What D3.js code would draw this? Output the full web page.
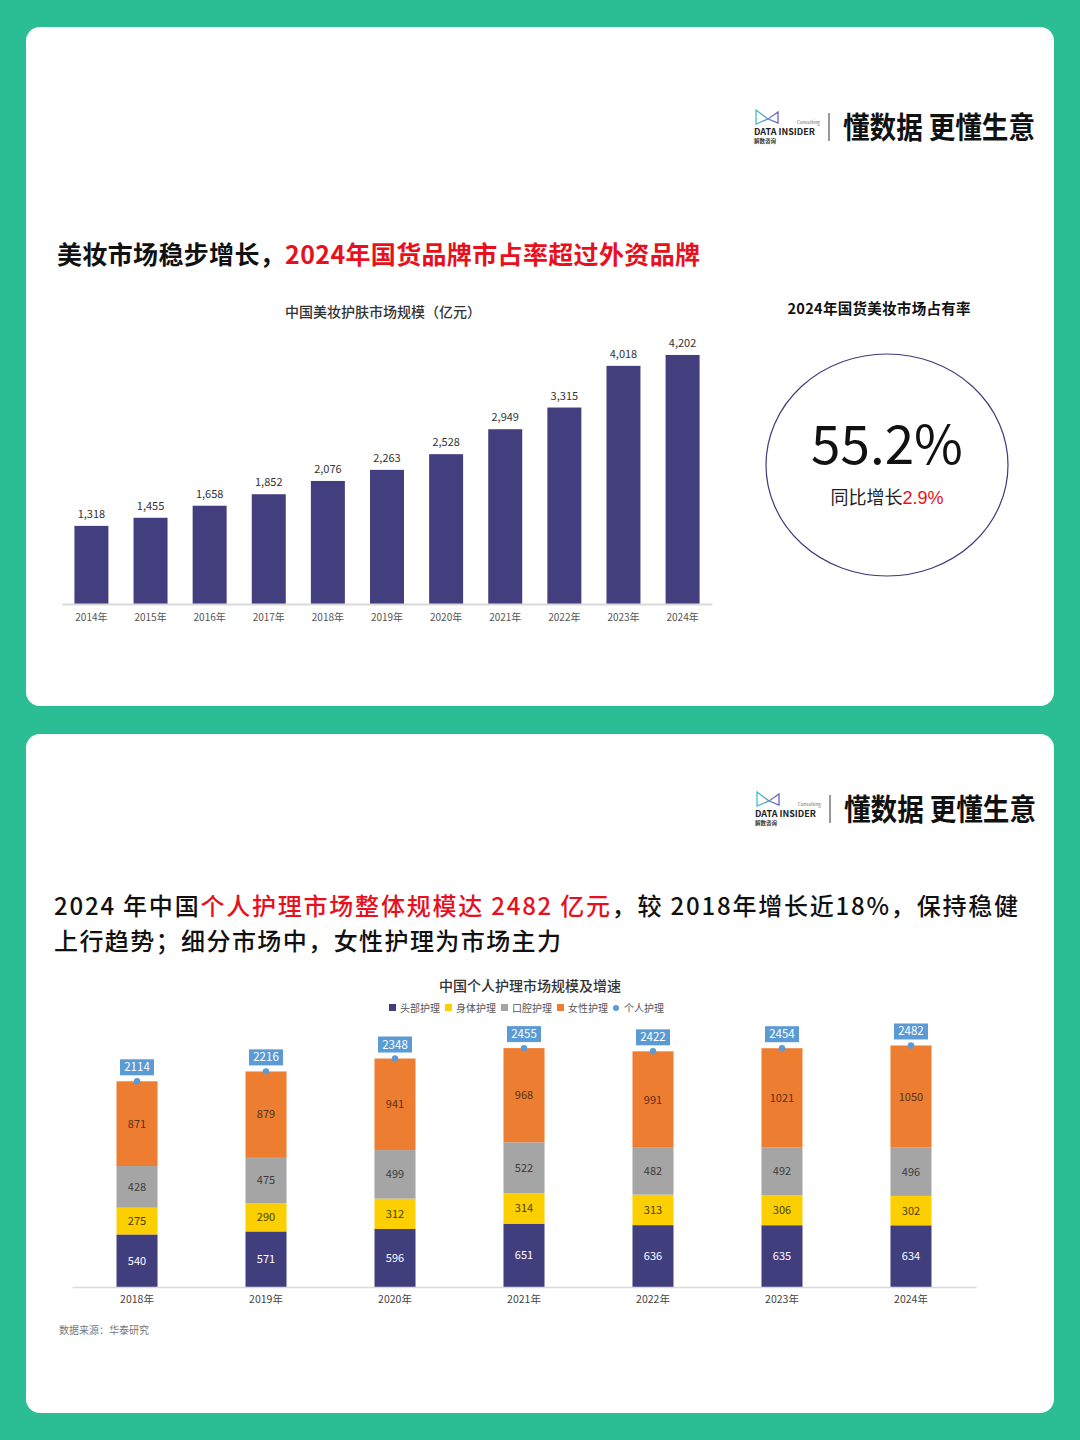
<!DOCTYPE html>
<html><head><meta charset="utf-8">
<script src="https://cdn.jsdelivr.net/npm/d3@7"></script>
<style>
html,body{margin:0;padding:0;background:#2bbd93;}
svg{display:block;}
text{font-family:"Noto Sans CJK SC","Noto Sans",sans-serif;}
</style></head>
<body>
<svg id="c" width="1080" height="1440"></svg>
<script>
// ---------- data ----------
const years1 = ["2014年","2015年","2016年","2017年","2018年","2019年","2020年","2021年","2022年","2023年","2024年"];
const market1 = [1318,1455,1658,1852,2076,2263,2528,2949,3315,4018,4202];

const years2 = ["2018年","2019年","2020年","2021年","2022年","2023年","2024年"];
const seriesNames = ["头部护理","身体护理","口腔护理","女性护理"];
const headCare   = [540,571,596,651,636,635,634];
const bodyCare   = [275,290,312,314,313,306,302];
const oralCare   = [428,475,499,522,482,492,496];
const femaleCare = [871,879,941,968,991,1021,1050];
const totalCare  = [2114,2216,2348,2455,2422,2454,2482];
const totalName = "个人护理";

const shareValue = "55.2%";
const shareGrowth = "2.9%";

// ---------- setup ----------
const svg = d3.select("#c");
const W = 1080;
svg.append("rect").attr("width",W).attr("height",1440).attr("fill","#2bbd93");
svg.append("rect").attr("x",26).attr("y",27).attr("width",1028).attr("height",679).attr("rx",14).attr("fill","#fff");
svg.append("rect").attr("x",26).attr("y",734).attr("width",1028).attr("height",679).attr("rx",14).attr("fill","#fff");

// ---------- logo ----------
function logo(x, y){
  const g = svg.append("g").attr("transform",`translate(${x},${y})`);
  const grad = svg.append("defs").append("linearGradient").attr("id","lg"+y).attr("x1","0").attr("x2","1");
  grad.append("stop").attr("offset","0").attr("stop-color","#3fc1c9");
  grad.append("stop").attr("offset","1").attr("stop-color","#6b5bc4");
  g.append("path").attr("d","M2,-17 L14,-8 L24,-15 L24,-4 L14,-8 L2,-3 Z")
    .attr("fill","none").attr("stroke","url(#lg"+y+")").attr("stroke-width",1.3);
  g.append("text").attr("x",0).attr("y",8).attr("font-size",9).attr("font-weight",700)
    .attr("fill","#222").attr("font-family","Liberation Sans, sans-serif").attr("textLength",61).text("DATA INSIDER");
  g.append("text").attr("x",43).attr("y",-3).attr("font-size",4.5).attr("fill","#666")
    .attr("font-family","Liberation Sans, sans-serif").text("Consulting");
  g.append("text").attr("x",0).attr("y",16).attr("font-size",5.5).attr("font-weight",700).attr("fill","#333").text("解数咨询");
  g.append("line").attr("x1",75).attr("x2",75).attr("y1",-14).attr("y2",14).attr("stroke","#555").attr("stroke-width",1.2);
  g.append("text").attr("x",89).attr("y",11).attr("font-size",30).attr("font-weight",700).attr("fill","#111")
    .attr("textLength",192).attr("lengthAdjust","spacingAndGlyphs").text("懂数据 更懂生意");
}
logo(754,127);
logo(755,809);

// ---------- card 1 title ----------
const t1 = svg.append("text").attr("x",57).attr("y",264).attr("font-size",25).attr("font-weight",700)
  .attr("textLength",643).attr("lengthAdjust","spacing");
t1.append("tspan").attr("fill","#111").text("美妆市场稳步增长，");
t1.append("tspan").attr("fill","#e8101c").text("2024年国货品牌市占率超过外资品牌");

svg.append("text").attr("x",383).attr("y",317).attr("text-anchor","middle").attr("font-size",14)
  .attr("font-weight",500).attr("fill","#333").text("中国美妆护肤市场规模（亿元）");

// ---------- chart 1 ----------
const x1 = d3.scaleBand().domain(years1).range([62,712]).paddingInner(0.425).paddingOuter(0.21);
const y1 = d3.scaleLinear().domain([0,4500]).range([604,337.3]);
const g1 = svg.append("g");
g1.selectAll("rect.b").data(market1).join("rect").attr("class","b")
  .attr("x",(d,i)=>x1(years1[i])).attr("width",x1.bandwidth())
  .attr("y",d=>y1(d)).attr("height",d=>y1(0)-y1(d)).attr("fill","#433f7f");
g1.selectAll("text.v").data(market1).join("text").attr("class","v")
  .attr("x",(d,i)=>x1(years1[i])+x1.bandwidth()/2).attr("y",d=>y1(d)-8)
  .attr("text-anchor","middle").attr("font-size",11).attr("fill","#333").text(d3.format(","));
const ax1 = svg.append("g").attr("transform","translate(0,604)")
  .call(d3.axisBottom(x1).tickSize(0).tickPadding(10));
ax1.select(".domain").attr("stroke","#d9d9d9").attr("stroke-width",2);
ax1.selectAll("text").attr("font-size",10).attr("fill","#555").attr("font-family","Noto Sans CJK SC");

// ---------- share circle ----------
svg.append("text").attr("x",879).attr("y",314).attr("text-anchor","middle").attr("font-size",14.5)
  .attr("font-weight",600).attr("fill","#111").attr("textLength",183).text("2024年国货美妆市场占有率");
svg.append("ellipse").attr("cx",887).attr("cy",465).attr("rx",121).attr("ry",111)
  .attr("fill","none").attr("stroke","#3d3a7a").attr("stroke-width",1.2);
svg.append("text").attr("x",887).attr("y",464).attr("text-anchor","middle").attr("font-size",53)
  .attr("font-family","Liberation Sans, Arial, sans-serif").attr("fill","#111").text(shareValue);
const gr = svg.append("text").attr("x",887).attr("y",504).attr("text-anchor","middle").attr("font-size",18);
gr.append("tspan").attr("fill","#222").text("同比增长");
gr.append("tspan").attr("fill","#e8101c").attr("font-family","Liberation Sans, Arial, sans-serif").text(shareGrowth);

// ---------- card 2 title ----------
const t2 = svg.append("text").attr("x",54).attr("y",915).attr("font-size",24).attr("font-weight",500)
  .attr("textLength",964).attr("lengthAdjust","spacing");
t2.append("tspan").attr("fill","#111").text("2024 年中国");
t2.append("tspan").attr("fill","#e8101c").text("个人护理市场整体规模达 2482 亿元");
t2.append("tspan").attr("fill","#111").text("，较 2018年增长近18%，保持稳健");
svg.append("text").attr("x",54).attr("y",950).attr("font-size",24).attr("font-weight",500).attr("fill","#111")
  .attr("textLength",507).attr("lengthAdjust","spacing")
  .text("上行趋势；细分市场中，女性护理为市场主力");

svg.append("text").attr("x",530).attr("y",991).attr("text-anchor","middle").attr("font-size",14)
  .attr("font-weight",500).attr("fill","#333").text("中国个人护理市场规模及增速");

// ---------- legend ----------
const colors = ["#413e7e","#fcd000","#a5a5a5","#ed7d31"];
const blue = "#5b9bd5";
const leg = svg.append("g").attr("transform","translate(389,1008)");
let lx = 0;
seriesNames.forEach((n,i)=>{
  leg.append("rect").attr("x",lx).attr("y",-4).attr("width",7).attr("height",7).attr("fill",colors[i]);
  leg.append("text").attr("x",lx+11).attr("y",3.5).attr("font-size",10).attr("fill","#555").text(n);
  lx += 56;
});
leg.append("circle").attr("cx",lx+3).attr("cy",0).attr("r",3).attr("fill",blue);
leg.append("text").attr("x",lx+11).attr("y",3.5).attr("font-size",10).attr("fill","#555").text(totalName);

// ---------- chart 2 ----------
const x2 = d3.scaleBand().domain(years2).range([72,976]).paddingInner(0.682).paddingOuter(0.345);
const y2 = d3.scaleLinear().domain([0,2600]).range([1287,1034]);
const rows = years2.map((yr,i)=>({year:yr,"头部护理":headCare[i],"身体护理":bodyCare[i],"口腔护理":oralCare[i],"女性护理":femaleCare[i]}));
const stack = d3.stack().keys(seriesNames)(rows);
const labelColors = ["#ffffff","#4a3b00","#3c3c3c","#5a3219"];
const g2 = svg.append("g");
stack.forEach((s,si)=>{
  g2.selectAll("rect.s"+si).data(s).join("rect").attr("class","s"+si)
    .attr("x",d=>x2(d.data.year)).attr("width",x2.bandwidth())
    .attr("y",d=>y2(d[1])).attr("height",d=>y2(d[0])-y2(d[1])).attr("fill",colors[si]);
  g2.selectAll("text.l"+si).data(s).join("text").attr("class","l"+si)
    .attr("x",d=>x2(d.data.year)+x2.bandwidth()/2).attr("y",d=>(y2(d[0])+y2(d[1]))/2+4)
    .attr("text-anchor","middle").attr("font-size",11).attr("fill",labelColors[si])
    .text(d=>d[1]-d[0]);
});
// totals
totalCare.forEach((v,i)=>{
  const cx = x2(years2[i])+x2.bandwidth()/2, cy = y2(v);
  g2.append("circle").attr("cx",cx).attr("cy",cy).attr("r",3.2).attr("fill",blue);
  g2.append("rect").attr("x",cx-17).attr("y",cy-22).attr("width",34).attr("height",16).attr("fill",blue);
  g2.append("text").attr("x",cx).attr("y",cy-10).attr("text-anchor","middle").attr("font-size",11.5)
    .attr("fill","#fff").text(v);
});
const ax2 = svg.append("g").attr("transform","translate(0,1287)")
  .call(d3.axisBottom(x2).tickSize(0).tickPadding(9));
ax2.select(".domain").attr("stroke","#d9d9d9").attr("stroke-width",1.5);
ax2.selectAll("text").attr("font-size",10.5).attr("fill","#444").attr("font-family","Noto Sans CJK SC");

svg.append("text").attr("x",59).attr("y",1334).attr("font-size",10).attr("fill","#777").text("数据来源：华泰研究");
</script>
</body></html>
